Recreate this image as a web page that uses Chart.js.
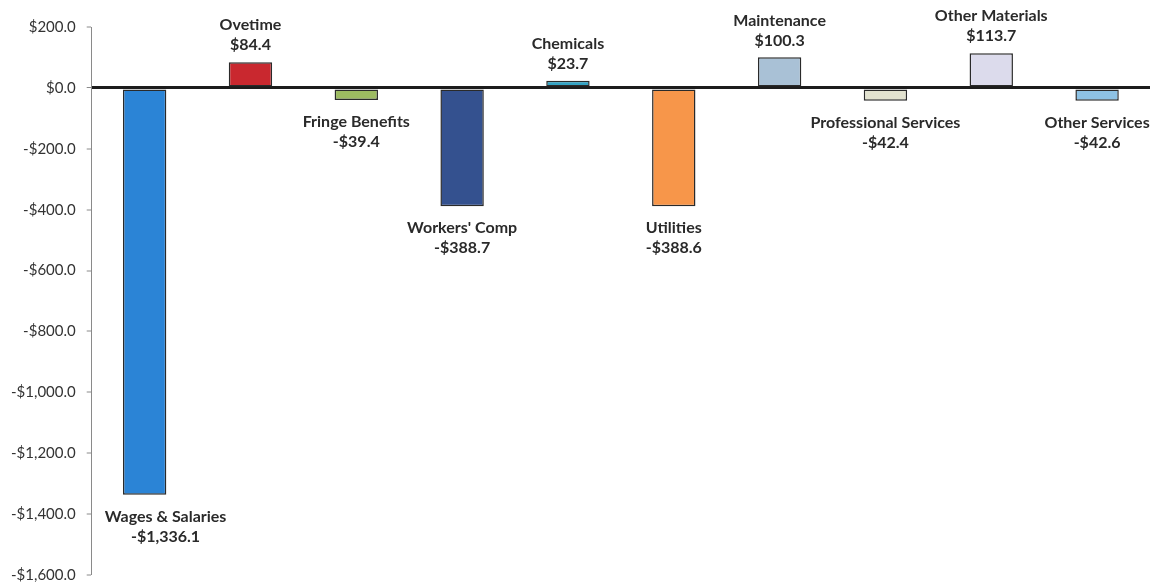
<!DOCTYPE html>
<html>
<head>
<meta charset="utf-8">
<script src="https://cdn.jsdelivr.net/npm/chart.js@4.4.1/dist/chart.umd.min.js"></script>
<style>
  html, body { margin: 0; padding: 0; background: #ffffff; }
  #wrap { width: 1159px; height: 585px; position: relative; }
  canvas { display: block; }
</style>
</head>
<body>
<div id="wrap"><canvas id="chart" width="1159" height="585"></canvas></div>
<script>
// Budget variance by expense category ($ thousands)
const categories = [
  'Wages & Salaries', 'Ovetime', 'Fringe Benefits', "Workers' Comp", 'Chemicals',
  'Utilities', 'Maintenance', 'Professional Services', 'Other Materials', 'Other Services'
];
const variances = [-1336.1, 84.4, -39.4, -388.7, 23.7, -388.6, 100.3, -42.4, 113.7, -42.6];
const barColors = [
  '#2b84d6', '#c9282f', '#9dbb61', '#34518f', '#33a3c4',
  '#f7964a', '#a9c1d6', '#e2e2cf', '#dcdbec', '#8ec2e4'
];
const yTicks = { min: -1600, max: 200, step: 200 };

const LABEL_FONT = 'bold 16px Lato, "Open Sans", sans-serif';
const TEXT_COLOR = '#2a2a2a';

function money(v) {
  const s = Math.abs(v).toLocaleString('en-US', { minimumFractionDigits: 1, maximumFractionDigits: 1 });
  return (v < 0 ? '-$' : '$') + s;
}

// Two-line category/value label above positive bars and below negative ones
const barLabels = {
  id: 'barLabels',
  afterDatasetsDraw(chart) {
    const ctx = chart.ctx;
    const meta = chart.getDatasetMeta(0);
    const area = chart.chartArea;
    ctx.save();
    ctx.font = LABEL_FONT;
    ctx.fillStyle = TEXT_COLOR;
    ctx.textAlign = 'center';
    ctx.textBaseline = 'middle';
    meta.data.forEach((bar, i) => {
      const v = variances[i];
      const name = categories[i];
      const val = money(v);
      const w = Math.max(ctx.measureText(name).width, ctx.measureText(val).width);
      let cx = bar.x;
      const minLeft = area.left + 13 + w / 2;
      if (cx < minLeft) cx = minLeft;
      let y1, y2;
      if (v >= 0) {
        y2 = bar.y - 17;
        y1 = y2 - 20;
      } else {
        y1 = bar.y + 22;
        y2 = y1 + 20;
      }
      ctx.fillText(name, cx, y1);
      ctx.fillText(val, cx, y2);
    });
    ctx.restore();
  }
};

new Chart(document.getElementById('chart'), {
  type: 'bar',
  data: {
    labels: categories,
    datasets: [{
      data: variances,
      backgroundColor: barColors,
      borderColor: '#2a2a2a',
      borderWidth: 1.5,
      borderSkipped: false,
      categoryPercentage: 1.0,
      barPercentage: 0.41
    }]
  },
  options: {
    responsive: false,
    animation: false,
    layout: { padding: { top: 27, right: 9, bottom: 10, left: 0 } },
    plugins: { legend: { display: false }, tooltip: { enabled: false } },
    scales: {
      x: { display: false },
      y: {
        min: yTicks.min,
        max: yTicks.max,
        afterFit(scale) {
          scale.paddingTop = 0;
          scale.paddingBottom = 0;
        },
        ticks: {
          stepSize: yTicks.step,
          color: '#333333',
          font: { family: 'Lato, "Open Sans", sans-serif', size: 15 },
          padding: 11,
          callback: (v) => money(v)
        },
        border: { display: true, color: '#8a8a8a', width: 1 },
        grid: {
          drawOnChartArea: true,
          color: (c) => (c.tick && c.tick.value === 0 ? '#1c1c1c' : 'rgba(0,0,0,0)'),
          lineWidth: (c) => (c.tick && c.tick.value === 0 ? 3 : 0),
          tickColor: '#8a8a8a',
          tickWidth: 1,
          tickLength: 5
        }
      }
    }
  },
  plugins: [barLabels]
});
</script>
</body>
</html>
